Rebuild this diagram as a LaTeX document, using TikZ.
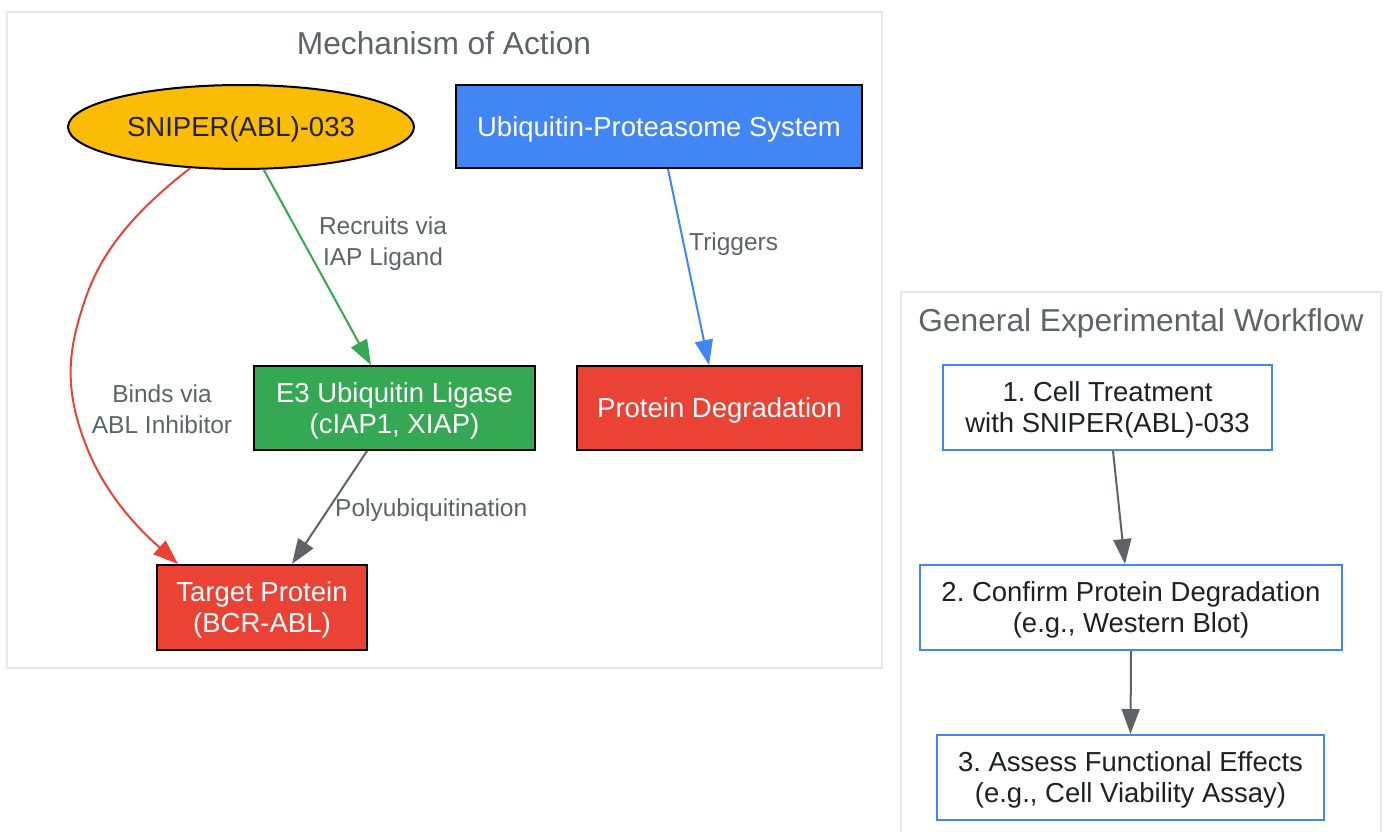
\documentclass[tikz,border=0pt]{standalone}
\usepackage{fontspec}
\setmainfont{Liberation Sans}
\usetikzlibrary{shapes.geometric,arrows.meta}
\definecolor{gyellow}{HTML}{FBBC05}
\definecolor{ggreen}{HTML}{34A853}
\definecolor{gred}{HTML}{EA4335}
\definecolor{gblue}{HTML}{4285F4}
\definecolor{ggray}{HTML}{5F6368}
\definecolor{gdark}{HTML}{202124}
\definecolor{gcluster}{HTML}{E8E8E8}
\newcommand\myNodeFont{\fontsize{27.5}{31}\selectfont}
\newcommand\myTitleFont{\fontsize{31.7}{36}\selectfont}
\newcommand\myEdgeFont{\fontsize{24.5}{31}\selectfont}
\tikzset{
  cluster/.style={draw=gcluster, line width=2pt, fill=white, inner sep=0},
  ctitle/.style={text=ggray, font=\myTitleFont, inner sep=0},
  box/.style={draw=black, line width=2pt, text=white, font=\myNodeFont, align=center, inner sep=0, text depth=0pt},
  wbox/.style={draw=gblue, line width=2pt, fill=white, text=gdark, font=\myNodeFont, align=center, inner sep=0, text depth=0pt},
  elabel/.style={text=ggray, font=\myEdgeFont, align=center, inner sep=0},
  conn/.style={line width=2pt, -{Triangle[length=25pt,width=18pt]}},
}
\begin{document}
\frenchspacing
\begin{tikzpicture}[x=1pt,y=-1pt]
\useasboundingbox (0,0) rectangle (1387,832);
\fill[white] (0,0) rectangle (1387,832);
% clusters
\node[cluster, minimum width=875pt, minimum height=656pt] (c1) at (444.5,340) {};
\node[cluster, minimum width=480pt, minimum height=560pt] (c2) at (1141,572) {};
\node[ctitle] (t1) at (444,43) {Mechanism of Action};
\node[ctitle] (t2) at (1141,323) {General Experimental Workflow};
% mechanism nodes
\node[ellipse, draw=black, line width=2pt, fill=gyellow, text=gdark, font=\myNodeFont, text depth=0pt,
      minimum width=346pt, minimum height=84pt, inner sep=0] (sniper) at (241,127) {SNIPER(ABL)-033};
\node[box, fill=gblue, minimum width=406pt, minimum height=83pt] (ups) at (659,126.5) {Ubiquitin-Proteasome System};
\node[box, fill=ggreen, minimum width=281pt, minimum height=84pt] (e3) at (394.5,408) {E3 Ubiquitin Ligase\\(cIAP1, XIAP)};
\node[box, fill=gred, minimum width=285pt, minimum height=84pt] (pd) at (719.5,408) {Protein Degradation};
\node[box, fill=gred, minimum width=210pt, minimum height=85pt] (target) at (262,607.5) {Target Protein\\(BCR-ABL)};
% workflow nodes
\node[wbox, minimum width=329pt, minimum height=85pt] (w1) at (1107.5,407.5) {1. Cell Treatment\\with SNIPER(ABL)-033};
\node[wbox, minimum width=422pt, minimum height=85pt] (w2) at (1131,607.5) {2. Confirm Protein Degradation\\(e.g., Western Blot)};
\node[wbox, minimum width=387pt, minimum height=85pt] (w3) at (1130.5,777.5) {3. Assess Functional Effects\\(e.g., Cell Viability Assay)};
% connectors
\draw[conn, ggreen] (sniper.-62) -- ([xshift=-23.5pt]e3.north);
\draw[conn, gred] (sniper.219) .. controls (130,215) and (100,255) .. (85,300)
   .. controls (68,350) and (62,390) .. (90,455)
   .. controls (110,500) and (140,530) .. ([xshift=-84pt]target.north);
\draw[conn, ggray] ([xshift=-27.5pt]e3.south) -- ([xshift=30pt]target.north);
\draw[conn, gblue] ([xshift=9pt]ups.south) -- ([xshift=-10.5pt]pd.north);
\draw[conn, ggray] ([xshift=5.5pt]w1.south) -- ([xshift=-6pt]w2.north);
\draw[conn, ggray] (w2.south) -- (w3.north);
% edge labels
\node[elabel] (l1) at (383,243.5) {Recruits via\\IAP Ligand};
\node[elabel] (l2) at (162,409.5) {Binds via\\ABL Inhibitor};
\node[elabel, anchor=west] (l3) at (335,510) {Polyubiquitination};
\node[elabel, anchor=west] (l4) at (689,244) {Triggers};
\end{tikzpicture}
\end{document}
